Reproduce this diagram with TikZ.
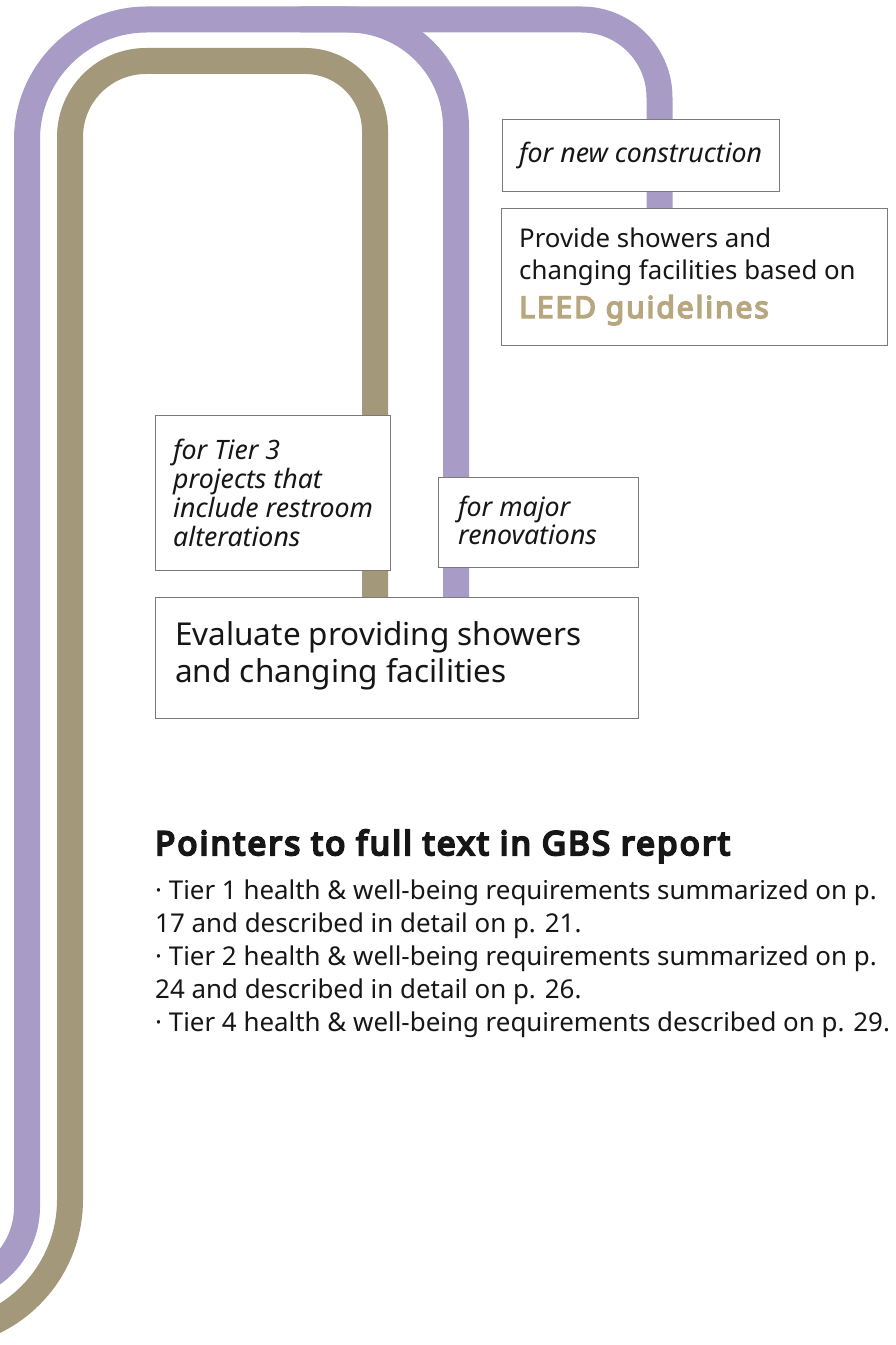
\documentclass[tikz,border=0pt]{standalone}
\usepackage{fontspec}
\setmainfont{Noto Sans}
\newfontfamily\nbold{Noto Sans}[FakeBold=5]
\newfontfamily\nheavy{Noto Sans}[FakeBold=6.5]
\definecolor{purp}{HTML}{A89BC5}
\definecolor{tan}{HTML}{A39879}
\definecolor{leed}{HTML}{B8A77E}
\definecolor{boxline}{HTML}{7A7A7A}
\definecolor{ink}{HTML}{161616}
\begin{document}
\begin{tikzpicture}[x=1pt,y=1pt,
  tube/.style={line width=26pt},
  box/.style={draw=boxline, line width=1pt, fill=white, inner sep=0pt, anchor=north west},
  lbl/.style={anchor=base west, inner sep=0pt, align=left, text=ink},
  ital/.style={font=\fontsize{26.7}{29}\selectfont\itshape}]
\useasboundingbox (0,0) rectangle (895,1345);
% tubes
\draw[tube, tan] ([shift={(-65,145)}]-72:135) arc[start angle=-72, end angle=0, radius=135]
  -- (70,1208) arc[start angle=180, end angle=90, radius=76]
  -- (305,1284) arc[start angle=90, end angle=0, radius=70]
  -- (375,740);
\draw[tube, purp] ([shift={(-55,138)}]-75:82) arc[start angle=-75, end angle=0, radius=82]
  -- (27,1205.5) arc[start angle=180, end angle=90, radius=120]
  -- (348,1325.5) arc[start angle=90, end angle=0, radius=108]
  -- (456,740);
\draw[tube, purp] (300,1325.5) -- (581.5,1325.5) arc[start angle=90, end angle=0, radius=78]
  -- (659.5,1130);
% boxes
\node[box, minimum width=277pt, minimum height=72pt] (newc) at (502,1226) {};
\node[lbl, ital] (newcT) at (519,1182) {for new construction};
\node[box, minimum width=386pt, minimum height=137pt] (prov) at (501,1137) {};
\node[lbl, font=\fontsize{25.8}{32}\selectfont] (provT) at (519,1027) {Provide showers and\\ changing facilities based on\\[6pt] {\nbold\fontsize{30}{32}\selectfont\addfontfeature{LetterSpace=6.5}\color{leed}LEED guidelines}};
\node[box, minimum width=235pt, minimum height=155pt] (tier) at (155,930) {};
\node[lbl, ital] (tierT) at (173,798) {for Tier 3\\ projects that\\ include restroom\\ alterations};
\node[box, minimum width=200pt, minimum height=90pt] (major) at (438,868) {};
\node[lbl, ital, font=\fontsize{26.7}{28.5}\selectfont\itshape] (majorT) at (458,800) {for major\\ renovations};
\node[box, minimum width=483pt, minimum height=121pt] (eval) at (155,748) {};
\node[lbl, font=\fontsize{31.5}{37}\selectfont] (evalT) at (175,662) {Evaluate providing showers\\ and changing facilities};
% pointers
\node[lbl, font=\nheavy\fontsize{33}{37}\selectfont\addfontfeature{LetterSpace=7}] (head) at (155,490) {Pointers to full text in GBS report};
\node[lbl, font=\fontsize{25.9}{33}\selectfont] (bul) at (155,313) {· Tier 1 health \& well-being requirements summarized on p.\\ 17 and described in detail on p. 21.\\ · Tier 2 health \& well-being requirements summarized on p.\\ 24 and described in detail on p. 26.\\ · Tier 4 health \& well-being requirements described on p. 29.};
\end{tikzpicture}
\end{document}
